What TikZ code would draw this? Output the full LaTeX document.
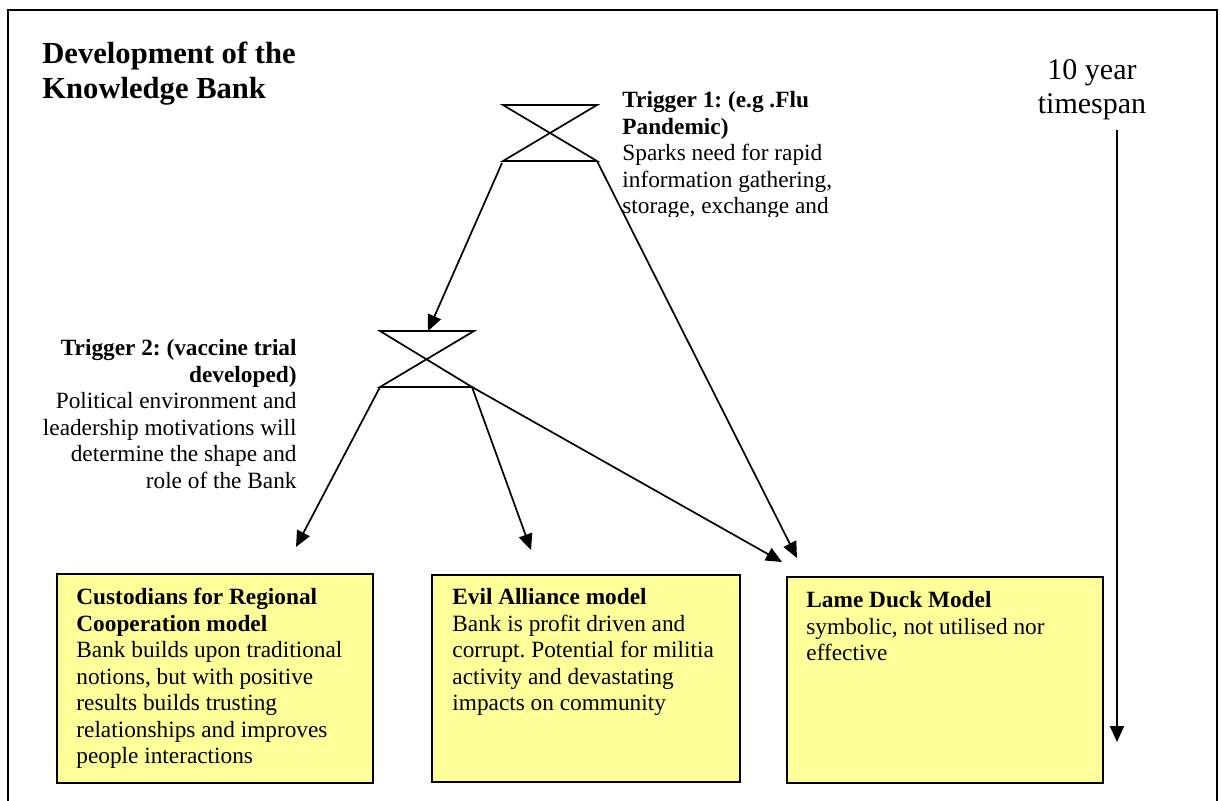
\documentclass[tikz,border=0pt]{standalone}
\usepackage{fontspec}
\setmainfont{Liberation Serif}
\usetikzlibrary{arrows.meta}
\frenchspacing
\definecolor{boxyellow}{RGB}{255,255,153}
\tikzset{
  conn/.style={line width=0.85pt,-{Triangle[length=8pt,width=7pt]}},
  glass/.style={line width=0.85pt},
  modelbox/.style={draw=black,line width=0.9pt,fill=boxyellow},
  bodytext/.style={inner sep=0pt,align=left,font=\frenchspacing\fontsize{11.65}{13.25}\selectfont},
}
\begin{document}
\begin{tikzpicture}[x=0.5pt,y=-0.5pt]
\useasboundingbox (0,0) rectangle (1221,800);
% frame
\draw[line width=1pt] (7.5,10) rectangle (1217,830);

% title
\node[inner sep=0pt,anchor=north west,align=left,font=\bfseries\fontsize{15.3}{17.5}\selectfont] (title) at (42,42) {Development of the\\Knowledge Bank};

% timespan
\node[inner sep=0pt,anchor=north,align=center,font=\fontsize{15}{17}\selectfont] (span) at (1092,59) {10 year\\timespan};
\coordinate (spanA) at (1117,130);
\coordinate (spanB) at (1117,742);
\draw[conn] (spanA) -- (spanB);

% hourglass 1
\coordinate (h1tl) at (503,105);
\coordinate (h1tr) at (597,105);
\coordinate (h1bl) at (503,161);
\coordinate (h1br) at (597,161);
\draw[glass] (h1tl) -- (h1tr) -- (h1bl) -- (h1br) -- cycle;

% hourglass 2
\coordinate (h2tl) at (380,331);
\coordinate (h2tr) at (474,331);
\coordinate (h2bl) at (380,387);
\coordinate (h2br) at (472,387);
\draw[glass] (h2tl) -- (h2tr) -- (h2bl) -- (h2br) -- cycle;

% trigger 1 text (clipped)
\begin{scope}
\clip (615,80) rectangle (900,216);
\node[bodytext,anchor=north west] (t1) at (622,91) {\textbf{Trigger 1: (e.g .Flu}\\\textbf{Pandemic)}\\Sparks need for rapid\\information gathering,\\storage, exchange and\\dissemination};
\end{scope}

% trigger 2 text
\node[bodytext,anchor=north east,align=right] (t2) at (297,339) {\textbf{Trigger 2: (vaccine trial}\\\textbf{developed)}\\Political environment and\\leadership motivations will\\determine the shape and\\role of the Bank};

% model boxes
\node[modelbox,minimum width=158pt,minimum height=104.5pt,anchor=north west,inner sep=0pt] (m1) at (56,573) {};
\node[modelbox,minimum width=154pt,minimum height=103.5pt,anchor=north west,inner sep=0pt] (m2) at (431,574) {};
\node[modelbox,minimum width=158pt,minimum height=103pt,anchor=north west,inner sep=0pt] (m3) at (786,576) {};

\node[bodytext,anchor=north west] (m1t) at (76,588) {\textbf{Custodians for Regional}\\\textbf{Cooperation model}\\Bank builds upon traditional\\notions, but with positive\\results builds trusting\\relationships and improves\\people interactions};
\node[bodytext,anchor=north west] (m2t) at (452,588) {\textbf{Evil Alliance model}\\Bank is profit driven and\\corrupt. Potential for militia\\activity and devastating\\impacts on community};
\node[bodytext,anchor=north west] (m3t) at (806,591) {\textbf{Lame Duck Model}\\symbolic, not utilised nor\\effective};

% connectors
\coordinate (a1) at (428,331);
\coordinate (a2) at (797,558);
\coordinate (a3) at (296,547);
\coordinate (a4) at (531,550);
\coordinate (a5) at (782,562);
\draw[conn] (h1bl) ++(-1,2) -- (a1);
\draw[conn] (h1br) -- (a2);
\draw[conn] (h2bl) -- (a3);
\draw[conn] (h2br) -- (a4);
\draw[conn] (h2br) -- (a5);
\end{tikzpicture}
\end{document}
